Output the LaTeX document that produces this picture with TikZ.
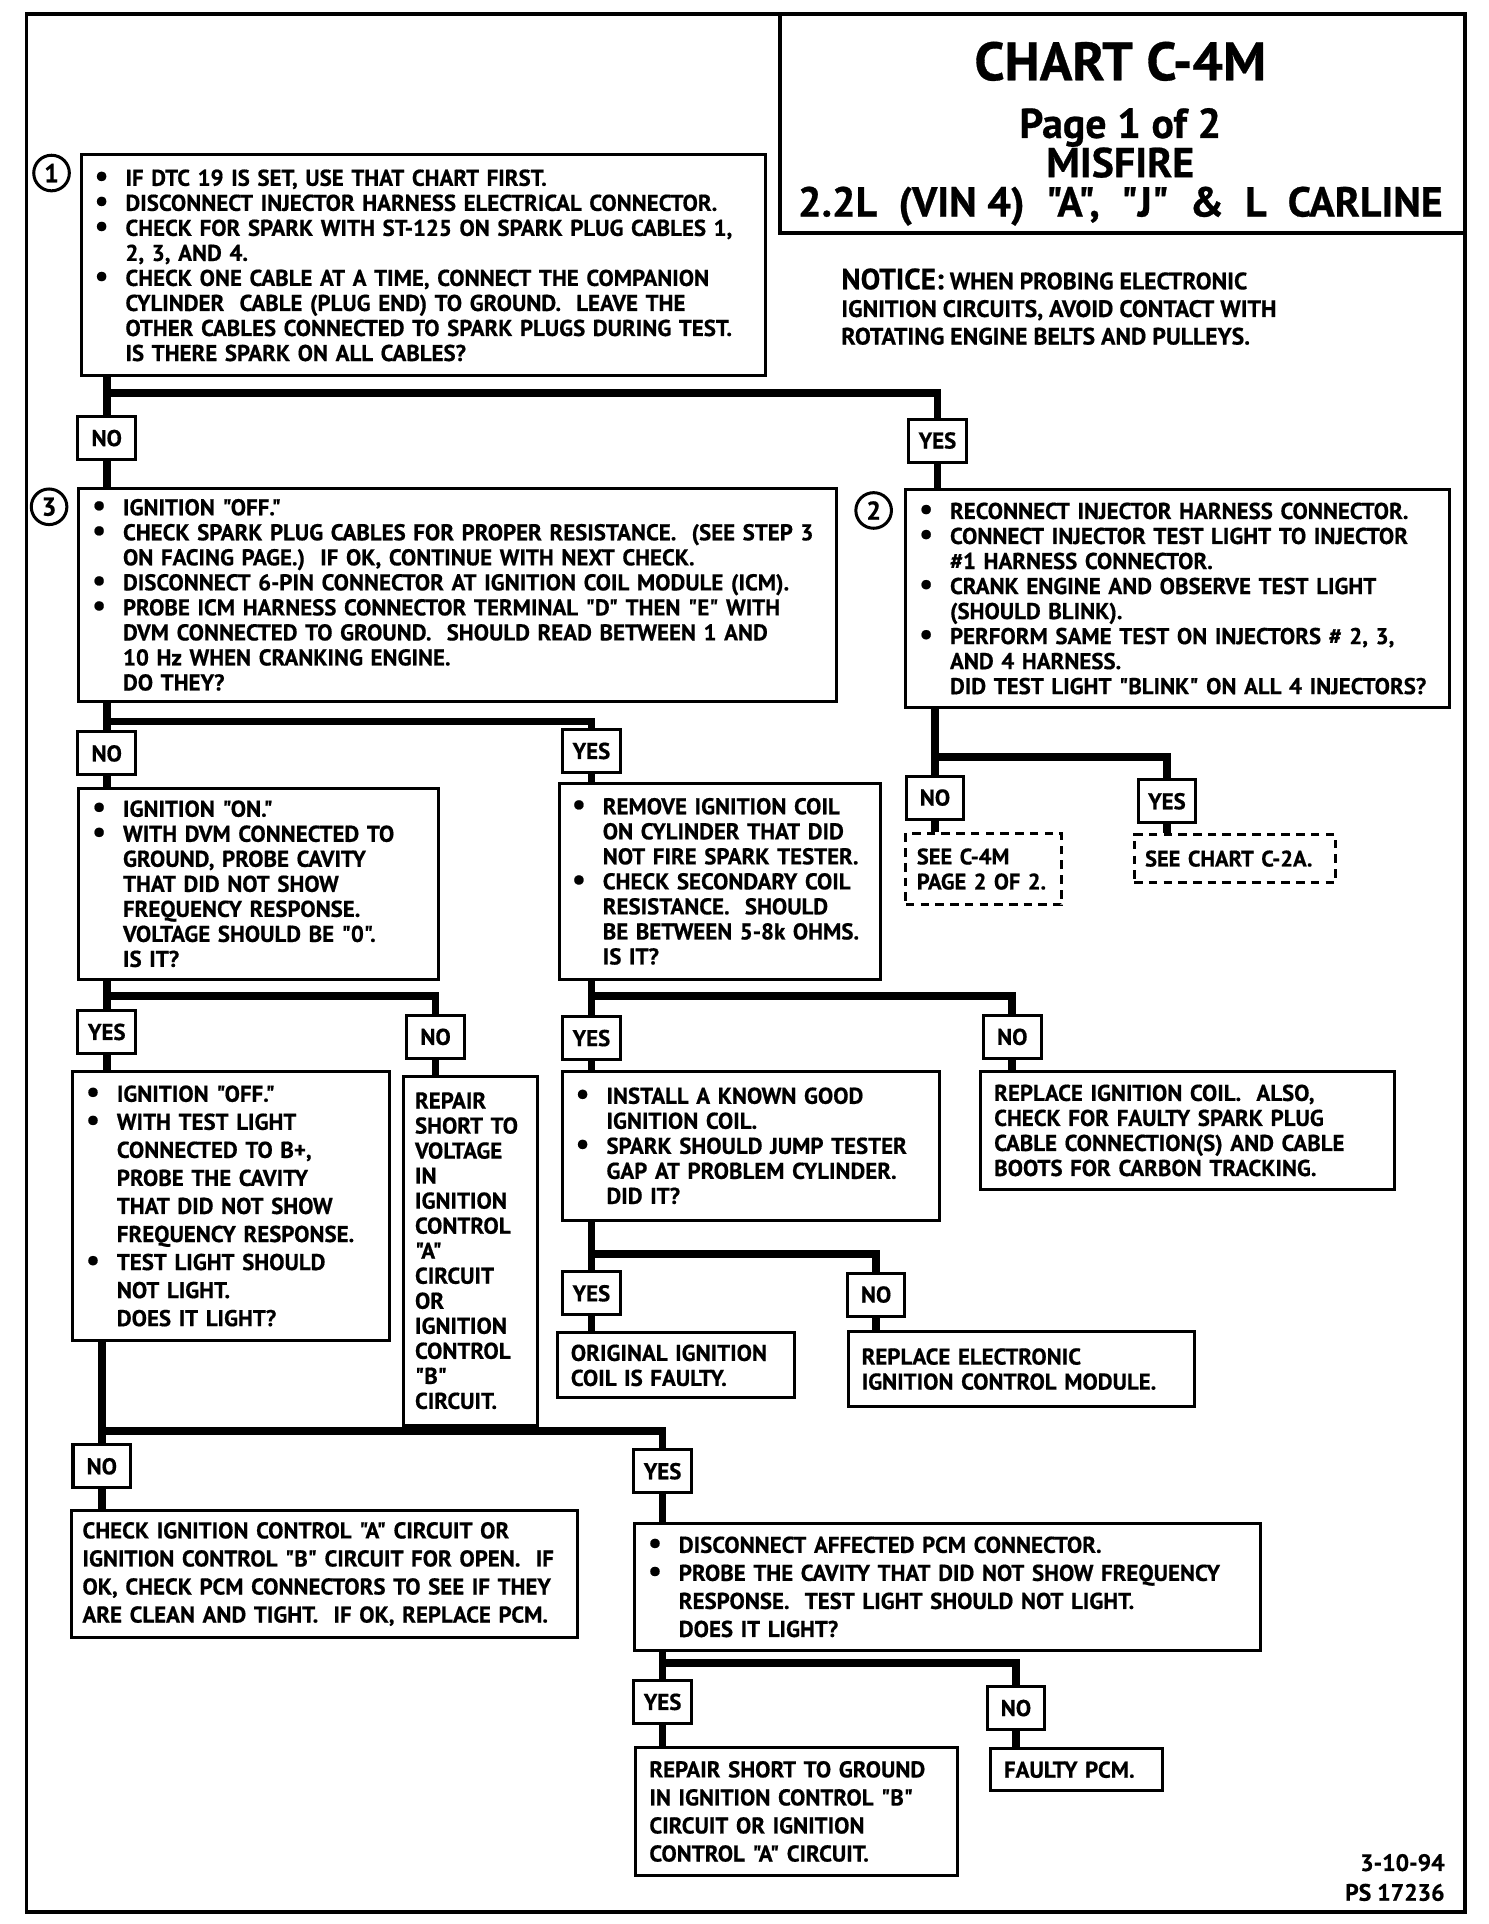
\documentclass[tikz,border=0pt]{standalone}
\usepackage{fontspec}
\setmainfont{PT Sans}[Ligatures=TeXOff, BoldFeatures={FakeBold=0.6}]
\usetikzlibrary{positioning}
\newcommand\chartbody{\bfseries\fontsize{5.3}{5.8}\selectfont}
\newcommand\chartloose{\bfseries\fontsize{5.3}{6.5}\selectfont}
\newcommand\chartsmall{\bfseries\fontsize{5.2}{5.8}\selectfont}
\newlength\bulind
\setlength\bulind{0.25cm}
\newcommand\bul{\makebox[\bulind][l]{\fontsize{7}{5.8}\selectfont\textbullet}}
\newcommand\hng{\hspace*{\bulind}}
\tikzset{
  box/.style 2 args={rectangle, draw, line width=0.7pt, anchor=north west,
    text width=#1, minimum height=#2, inner xsep=0.11cm, inner ysep=0.05cm,
    align=left, font=\chartbody},
  dbox/.style 2 args={box={#1}{#2}, inner xsep=0.09cm, font=\chartsmall,
    dash pattern=on 0.07cm off 0.05cm},
  ans/.style={rectangle, draw, line width=0.7pt, minimum width=0.47cm,
    minimum height=0.35cm, inner sep=1pt, font=\chartbody},
  stepnum/.style={circle, draw, line width=0.7pt, minimum size=0.29cm,
    inner sep=0pt, font=\bfseries\fontsize{6}{6}\selectfont},
  conn/.style={line width=1.8pt},
}
\begin{document}
\begin{tikzpicture}[x=0.01cm, y=-0.01cm]
\useasboundingbox (0,0) rectangle (1213,1568);

% frame and title
\node[draw, line width=0.9pt, anchor=north west, minimum width=11.72cm,
  minimum height=15.46cm, inner sep=0pt] (frame) at (20,10) {};
\node[draw, line width=0.9pt, anchor=north east, minimum width=5.58cm,
  minimum height=1.78cm, inner sep=0pt] (titlebox) at (frame.north east) {};
\node[font=\bfseries\fontsize{12.5}{13}\selectfont] (chart) at (913,50) {CHART C-4M};
\node[align=center, font=\bfseries\fontsize{9.7}{9.1}\selectfont] (misfire) at (913,136)
  {Page 1 of 2\\MISFIRE\\2.2L~ (VIN 4)~ "A",~ "J"~ \&~ L~ CARLINE};
\node[anchor=north west, inner sep=0pt, align=left, font=\bfseries\fontsize{5.5}{6.4}\selectfont] (notice) at (685,218)
  {{\fontsize{6.8}{6.4}\selectfont NOTICE:} WHEN PROBING ELECTRONIC\\
   IGNITION CIRCUITS, AVOID CONTACT WITH\\
   ROTATING ENGINE BELTS AND PULLEYS.};

% step 1
\node[box={5.35cm}{1.80cm}] (b1) at (65,125) {
  \bul IF DTC 19 IS SET, USE THAT CHART FIRST.\\
  \bul DISCONNECT INJECTOR HARNESS ELECTRICAL CONNECTOR.\\
  \bul CHECK FOR SPARK WITH ST-125 ON SPARK PLUG CABLES 1,\\
  \hng 2, 3, AND 4.\\
  \bul CHECK ONE CABLE AT A TIME, CONNECT THE COMPANION\\
  \hng CYLINDER~ CABLE (PLUG END) TO GROUND.~ LEAVE THE\\
  \hng OTHER CABLES CONNECTED TO SPARK PLUGS DURING TEST.\\
  \hng IS THERE SPARK ON ALL CABLES?};
\node[stepnum] (one) at (42,141) {1};
\node[ans] (no1) at (87,357) {NO};
\node[ans] (yes1) at (764,359) {YES};

% step 3
\node[box={5.95cm}{1.73cm}] (b3) at (63,397) {
  \bul IGNITION "OFF."\\
  \bul CHECK SPARK PLUG CABLES FOR PROPER RESISTANCE.~ (SEE STEP 3\\
  \hng ON FACING PAGE.)~ IF OK, CONTINUE WITH NEXT CHECK.\\
  \bul DISCONNECT 6-PIN CONNECTOR AT IGNITION COIL MODULE (ICM).\\
  \bul PROBE ICM HARNESS CONNECTOR TERMINAL "D" THEN "E" WITH\\
  \hng DVM CONNECTED TO GROUND.~ SHOULD READ BETWEEN 1 AND\\
  \hng 10 Hz WHEN CRANKING ENGINE.\\
  \hng DO THEY?};
\node[stepnum] (three) at (40,413) {3};

% step 2
\node[box={4.21cm}{1.77cm}] (b2) at (737,398) {
  \bul RECONNECT INJECTOR HARNESS CONNECTOR.\\
  \bul CONNECT INJECTOR TEST LIGHT TO INJECTOR\\
  \hng \#1 HARNESS CONNECTOR.\\
  \bul CRANK ENGINE AND OBSERVE TEST LIGHT\\
  \hng (SHOULD BLINK).\\
  \bul PERFORM SAME TEST ON INJECTORS \# 2, 3,\\
  \hng AND 4 HARNESS.\\
  \hng DID TEST LIGHT "BLINK" ON ALL 4 INJECTORS?};
\node[stepnum] (two) at (712,416) {2};

\node[ans] (no3) at (87,614) {NO};
\node[ans] (yes3) at (482,612) {YES};
\node[ans] (no2) at (762,650) {NO};
\node[ans] (yes2) at (951,653) {YES};

\node[dbox={1.09cm}{0.58cm}] (seepg2) at (737,678) {SEE C-4M\\PAGE 2 OF 2.};
\node[dbox={1.46cm}{0.39cm}] (seec2a) at (923,679) {SEE CHART C-2A.};

\node[box={2.71cm}{1.56cm}] (b4) at (63,641) {
  \bul IGNITION "ON."\\
  \bul WITH DVM CONNECTED TO\\
  \hng GROUND, PROBE CAVITY\\
  \hng THAT DID NOT SHOW\\
  \hng FREQUENCY RESPONSE.\\
  \hng VOLTAGE SHOULD BE "0".\\
  \hng IS IT?};
\node[box={2.41cm}{1.60cm}, inner xsep=0.10cm] (b5) at (455,637) {
  \bul REMOVE IGNITION COIL\\
  \hng ON CYLINDER THAT DID\\
  \hng NOT FIRE SPARK TESTER.\\
  \bul CHECK SECONDARY COIL\\
  \hng RESISTANCE.~ SHOULD\\
  \hng BE BETWEEN 5-8k OHMS.\\
  \hng IS IT?};

\node[ans] (yes4) at (87,841) {YES};
\node[ans] (no4) at (355,845) {NO};
\node[ans] (yes5) at (482,846) {YES};
\node[ans] (no5) at (825,845) {NO};

\node[box={2.36cm}{2.19cm}, font=\chartloose] (b6) at (58,872) {
  \bul IGNITION "OFF."\\
  \bul WITH TEST LIGHT\\
  \hng CONNECTED TO B+,\\
  \hng PROBE THE CAVITY\\
  \hng THAT DID NOT SHOW\\
  \hng FREQUENCY RESPONSE.\\
  \bul TEST LIGHT SHOULD\\
  \hng NOT LIGHT.\\
  \hng DOES IT LIGHT?};
\node[box={0.91cm}{2.84cm}, inner xsep=0.09cm] (b7) at (328,876) {
  REPAIR\\SHORT~TO\\VOLTAGE\\IN\\IGNITION\\CONTROL\\"A"\\CIRCUIT\\OR\\
  IGNITION\\CONTROL\\"B"\\CIRCUIT.};
\node[box={2.85cm}{1.21cm}] (b8) at (457,872) {
  \bul INSTALL A KNOWN GOOD\\
  \hng IGNITION COIL.\\
  \bul SPARK SHOULD JUMP TESTER\\
  \hng GAP AT PROBLEM CYLINDER.\\
  \hng DID IT?};
\node[box={3.15cm}{0.96cm}] (b9) at (798,872) {
  REPLACE IGNITION COIL.~ ALSO,\\
  CHECK FOR FAULTY SPARK PLUG\\
  CABLE CONNECTION(S) AND CABLE\\
  BOOTS FOR CARBON TRACKING.};

\node[ans] (yes8) at (482,1054) {YES};
\node[ans] (no8) at (714,1055) {NO};
\node[box={1.71cm}{0.53cm}] (b10) at (453,1085) {ORIGINAL IGNITION\\COIL IS FAULTY.};
\node[box={2.60cm}{0.61cm}] (b11) at (690,1084) {REPLACE ELECTRONIC\\IGNITION CONTROL MODULE.};

\node[ans] (no6) at (83,1195) {NO};
\node[ans] (yes6) at (540,1199) {YES};
\node[box={3.94cm}{1.03cm}, inner xsep=0.09cm, font=\chartloose] (b12) at (57,1230) {
  CHECK IGNITION CONTROL "A" CIRCUIT OR\\
  IGNITION CONTROL "B" CIRCUIT FOR OPEN.~ IF\\
  OK, CHECK PCM CONNECTORS TO SEE IF THEY\\
  ARE CLEAN AND TIGHT.~ IF OK, REPLACE PCM.};
\node[box={4.88cm}{1.04cm}, font=\chartloose] (b13) at (516,1240) {
  \bul DISCONNECT AFFECTED PCM CONNECTOR.\\
  \bul PROBE THE CAVITY THAT DID NOT SHOW FREQUENCY\\
  \hng RESPONSE.~ TEST LIGHT SHOULD NOT LIGHT.\\
  \hng DOES IT LIGHT?};

\node[ans] (yes13) at (540,1387) {YES};
\node[ans] (no13) at (828,1392) {NO};
\node[box={2.40cm}{1.04cm}, font=\chartloose] (b14) at (517,1423) {
  REPAIR SHORT TO GROUND\\
  IN IGNITION CONTROL "B"\\
  CIRCUIT OR IGNITION\\
  CONTROL "A" CIRCUIT.};
\node[box={1.18cm}{0.34cm}] (b15) at (806,1424) {FAULTY PCM.};

\node[anchor=south east, inner sep=0pt, align=right, font=\bfseries\fontsize{5.5}{6.9}\selectfont] (psno) at (1178,1550)
  {3-10-94\\PS 17236};

% connectors
\coordinate (j1) at (87,320);
\draw[conn] (b1.south -| j1) -- (j1) -| (yes1);
\draw[conn] (j1) -- (no1);
\draw[conn] (no1) -- (no1 |- b3.north);
\draw[conn] (yes1) -- (yes1 |- b2.north);

\coordinate (j3) at (87,588);
\draw[conn] (b3.south -| j3) -- (j3) -| (yes3);
\draw[conn] (j3) -- (no3);
\draw[conn] (no3) -- (no3 |- b4.north);
\draw[conn] (yes3) -- (yes3 |- b5.north);

\coordinate (j2) at (762,617);
\draw[conn] (b2.south -| j2) -- (j2) -| (yes2);
\draw[conn] (j2) -- (no2);
\draw[conn] (no2) -- (no2 |- seepg2.north);
\draw[conn] (yes2) -- (yes2 |- seec2a.north);

\coordinate (j4) at (87,812);
\draw[conn] (b4.south -| j4) -- (j4) -| (no4);
\draw[conn] (j4) -- (yes4);
\draw[conn] (yes4) -- (yes4 |- b6.north);
\draw[conn] (no4) -- (no4 |- b7.north);

\coordinate (j5) at (482,812);
\draw[conn] (b5.south -| j5) -- (j5) -| (no5);
\draw[conn] (j5) -- (yes5);
\draw[conn] (yes5) -- (yes5 |- b8.north);
\draw[conn] (no5) -- (no5 |- b9.north);

\coordinate (j8) at (482,1022);
\draw[conn] (b8.south -| j8) -- (j8) -| (no8);
\draw[conn] (j8) -- (yes8);
\draw[conn] (yes8) -- (yes8 |- b10.north);
\draw[conn] (no8) -- (no8 |- b11.north);

\coordinate (j6) at (83,1166);
\draw[conn] (b6.south -| j6) -- (j6) -| (yes6);
\draw[conn] (j6) -- (no6);
\draw[conn] (no6) -- (no6 |- b12.north);
\draw[conn] (yes6) -- (yes6 |- b13.north);

\coordinate (j13) at (540,1355);
\draw[conn] (b13.south -| j13) -- (j13) -| (no13);
\draw[conn] (j13) -- (yes13);
\draw[conn] (yes13) -- (yes13 |- b14.north);
\draw[conn] (no13) -- (no13 |- b15.north);

\end{tikzpicture}
\end{document}
